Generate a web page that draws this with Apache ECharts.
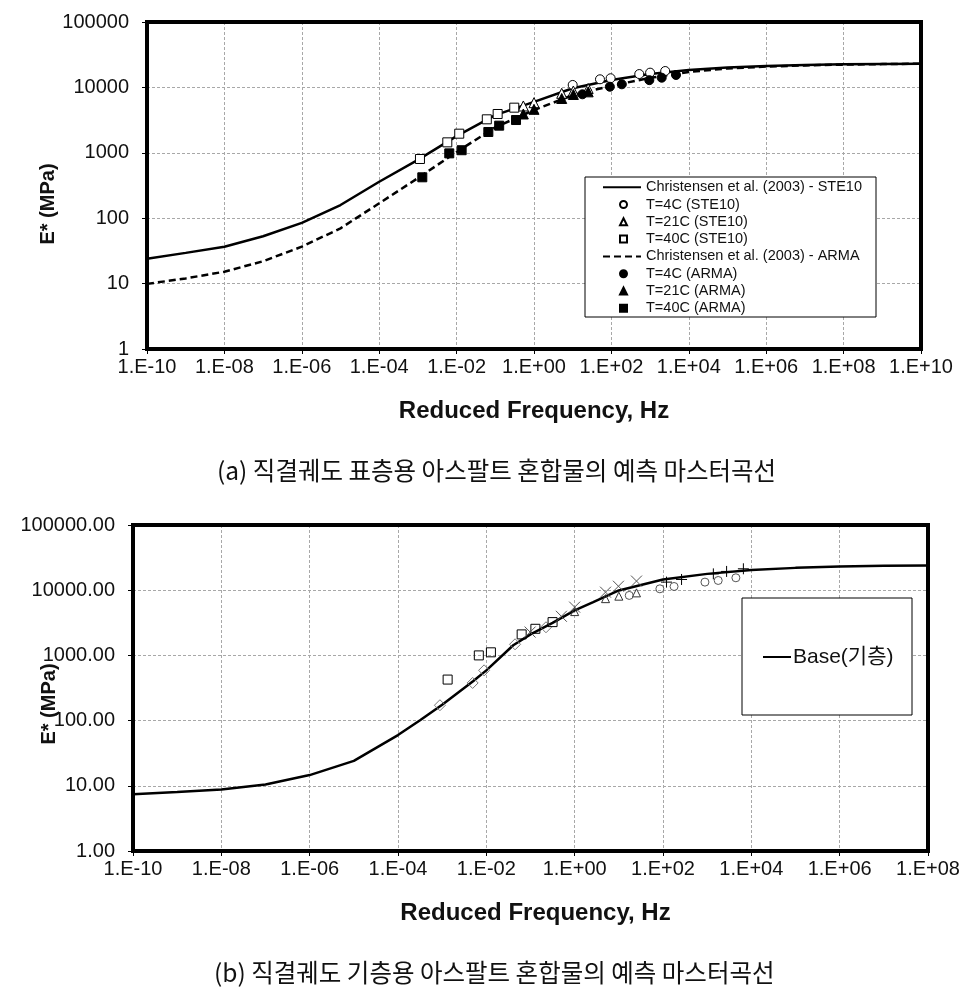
<!DOCTYPE html>
<html>
<head>
<meta charset="utf-8">
<script src="https://cdn.jsdelivr.net/npm/echarts@6/dist/echarts.min.js"></script>
<style>
html,body{margin:0;padding:0;background:#fff;}
#chart{width:972px;height:993px;}
</style>
</head>
<body>
<div id="chart"></div>
<script>
// ---------- Chart (a) data ----------
const curveFreqA = [1e-10,1e-9,1e-8,1e-7,1e-6,1e-5,1e-4,1e-3,1e-2,1e-1,1,10,100,1e3,1e4,1e5,1e6,1e7,1e8,1e9,1e10];
const ste10Curve = [24,29.5,36.7,53,85,159,361,780,1800,3760,6000,9700,13000,16000,18500,20200,21200,22000,22500,22800,23000];
const armaCurve  = [9.9,12,15.2,22,36.7,70,169,410,1030,2450,4510,7600,10600,14000,17200,19500,20800,21700,22300,22700,23000];

const ste4Freq  = [10,50.7,95.5,525,1000,2455];
const ste4E     = [10900,13300,13800,16000,16800,17800];
const ste21Freq = [0.53,1.0,5.2,10.4,25.1];
const ste21E    = [5200,5840,8120,8810,9600];
const ste40Freq = [1.13e-3,5.75e-3,1.17e-2,6.03e-2,0.115,0.309];
const ste40E    = [804,1445,1960,3250,3920,4900];

const arma4Freq  = [17.8,91.2,186,955,1995,4677];
const arma4E     = [7840,10240,11150,12900,14070,15480];
const arma21Freq = [0.53,1.0,5.2,10.4,25.1];
const arma21E    = [3920,4620,6770,7800,8550];
const arma40Freq = [1.3e-3,6.46e-3,1.35e-2,6.61e-2,0.126,0.343];
const arma40E    = [422,980,1095,2080,2600,3170];

// ---------- Chart (b) data ----------
const baseFreq = [1e-10,1e-9,1e-8,1e-7,1e-6,1e-5,1e-4,3.16e-4,1e-3,5.0e-3,1e-2,4.07e-2,0.1,0.316,1,2.63,10,100,1e3,1e4,1e5,1e6,1e7,1e8];
const baseE    = [7.4,8.0,8.8,10.5,14.6,24.1,60,101,175,401,590,1430,2100,3150,4900,6560,9900,14600,17800,20400,22000,23100,23700,24000];

const bDiaFreq = [8.9e-4,4.9e-3,8.9e-3,4.47e-2,0.224];
const bDiaE    = [172,378,590,1480,2700];
const bSqFreq  = [1.33e-3,6.76e-3,1.27e-2,6.31e-2,0.129,0.316];
const bSqE     = [426,1000,1115,2100,2560,3240];
const bXFreq   = [9.8e-2,0.5,1,5.0,9.8,25.1];
const bXE      = [2280,3980,5500,9330,11500,13800];
const bTriFreq = [1,5.0,10,25.1];
const bTriE    = [4700,7420,8100,9100];
const bCirFreq = [17.2,85,178,891,1778,4467];
const bCirE    = [8320,10500,11400,13300,14100,15500];
const bPlusFreq= [120,263,1380,2754,6607];
const bPlusE   = [13300,14600,17800,19400,21300];

const namesA = ['Christensen et al. (2003) - STE10','T=4C (STE10)','T=21C (STE10)','T=40C (STE10)',
                'Christensen et al. (2003) - ARMA','T=4C (ARMA)','T=21C (ARMA)','T=40C (ARMA)'];
const nameB = 'Base(기층)';
const captionA = '(a) 직결궤도 표층용 아스팔트 혼합물의 예측 마스터곡선';
const captionB = '(b) 직결궤도 기층용 아스팔트 혼합물의 예측 마스터곡선';
const xTitle = 'Reduced Frequency, Hz';
const yTitle = 'E* (MPa)';

function zip(a,b){return a.map((v,i)=>[v,b[i]]);}
function fmtE(v){
  const e = Math.round(Math.log10(v));
  const a = Math.abs(e);
  return '1.E' + (e<0?'-':'+') + (a<10?'0'+a:a);
}
const LAT = '"Liberation Sans", Arial, sans-serif';
const gridLine = {show:true, lineStyle:{color:'#a8a8a8', type:[3,2], width:1}};
const axLine = {show:true, lineStyle:{color:'#000', width:4}};
const axTick = {show:true, length:5, lineStyle:{color:'#000', width:1}};
const hiddenSym = {color:'rgba(0,0,0,0)', borderColor:'rgba(0,0,0,0)', borderWidth:0, opacity:0};

function xAxis(gi, max, pad){
  return {type:'log', logBase:10, gridIndex:gi, min:1e-10, max:max, interval:2,
    axisLine:axLine, axisTick:axTick, splitLine:gridLine,
    axisLabel:{formatter:fmtE, fontSize:20, color:'#111', fontFamily:LAT, margin:8},
    name:xTitle, nameLocation:'middle', nameGap:50,
    nameTextStyle:{fontSize:24, fontWeight:'bold', color:'#111', fontFamily:LAT, padding:pad}};
}
function yAxis(gi, fmt){
  return {type:'log', logBase:10, gridIndex:gi, min:1, max:100000, interval:1,
    axisLine:axLine, axisTick:axTick, splitLine:gridLine,
    axisLabel:{formatter:fmt, fontSize:20, color:'#111', fontFamily:LAT, margin:18}};
}
function scat(name, fx, fy, sym, size, fill, stroke, xi){
  return {type:'scatter', name:name, xAxisIndex:xi, yAxisIndex:xi, data:zip(fx,fy),
    symbol:sym, symbolSize:size, z:5,
    itemStyle:{color:fill, borderColor:stroke, borderWidth:1, opacity:1}};
}

// legend (a): one component per entry so line and marker icons can be sized separately
const legendRowsTop = 186.7, legendRowStep = 17.3;
const legendsA = namesA.map((n,i)=>{
  const isLine = (i===0 || i===4);
  const cy = legendRowsTop + i*legendRowStep;
  const l = {
    data:[n],
    left: isLine ? 602 : 619, top: cy-7, padding:0,
    itemWidth: isLine ? 38 : 7, itemHeight: 7,
    textStyle:{fontSize:14.5, lineHeight:14, color:'#111', fontFamily:LAT,
               padding: isLine ? [0,0,0,0] : [0,0,0,14]},
    selectedMode:false
  };
  if (isLine) l.itemStyle = hiddenSym;
  return l;
});

const chart = echarts.init(document.getElementById('chart'), null, {renderer:'canvas'});
chart.setOption({
  animation:false,
  backgroundColor:'#fff',
  grid:[
    {left:147, top:22, width:774, height:327},
    {left:133, top:525, width:795, height:326}
  ],
  xAxis:[xAxis(0,1e10,[0,0,0,0]), xAxis(1,1e8,[0,0,0,10])],
  yAxis:[yAxis(0, v=>String(Math.round(v))), yAxis(1, v=>Number(v).toFixed(2))],
  title:[
    {text:captionA, left:217, top:458, padding:0, textStyle:{fontSize:24.5, fontWeight:'normal', color:'#111', fontFamily:'"Noto Sans CJK KR", sans-serif'}},
    {text:captionB, left:214, top:960, padding:0, textStyle:{fontSize:24.5, fontWeight:'normal', color:'#111', fontFamily:'"Noto Sans CJK KR", sans-serif'}}
  ],
  graphic:[
    {type:'rect', shape:{x:147, y:22, width:774, height:327}, style:{fill:'none', stroke:'#000', lineWidth:4}, z:100},
    {type:'rect', shape:{x:133, y:525, width:795, height:326}, style:{fill:'none', stroke:'#000', lineWidth:4}, z:100},
    {type:'rect', shape:{x:585, y:177, width:291, height:140}, style:{fill:'#fff', stroke:'#000', lineWidth:1}, z:4},
    {type:'rect', shape:{x:742, y:598, width:170, height:117}, style:{fill:'#fff', stroke:'#000', lineWidth:1}, z:4},
    {type:'text', x:48, y:204, rotation:Math.PI/2, style:{text:yTitle, font:'bold 20px '+LAT, fill:'#111', textAlign:'center', textVerticalAlign:'middle'}},
    {type:'text', x:49, y:704, rotation:Math.PI/2, style:{text:yTitle, font:'bold 20px '+LAT, fill:'#111', textAlign:'center', textVerticalAlign:'middle'}}
  ],
  legend: legendsA.concat([
    {data:[nameB], left:762, top:646, padding:0,
     itemWidth:28, itemHeight:14, itemStyle:hiddenSym,
     textStyle:{fontSize:21, lineHeight:22, color:'#111', fontFamily:LAT+', "Noto Sans CJK KR"', padding:[0,0,0,-3]}, selectedMode:false}
  ]),
  series:[
    {type:'line', name:namesA[0], xAxisIndex:0, yAxisIndex:0, data:zip(curveFreqA, ste10Curve), symbol:'none',
     lineStyle:{color:'#000', width:2.5}, itemStyle:{color:'#000'}, z:3},
    scat(namesA[1], ste4Freq, ste4E, 'circle', 9, '#fff', '#000', 0),
    scat(namesA[2], ste21Freq, ste21E, 'triangle', 10, '#fff', '#000', 0),
    scat(namesA[3], ste40Freq, ste40E, 'rect', 9, '#fff', '#000', 0),
    {type:'line', name:namesA[4], xAxisIndex:0, yAxisIndex:0, data:zip(curveFreqA, armaCurve), symbol:'none',
     lineStyle:{color:'#000', width:2.5, type:[7,4]}, itemStyle:{color:'#000'}, z:3},
    scat(namesA[5], arma4Freq, arma4E, 'circle', 9, '#000', '#000', 0),
    scat(namesA[6], arma21Freq, arma21E, 'triangle', 10, '#000', '#000', 0),
    scat(namesA[7], arma40Freq, arma40E, 'rect', 9, '#000', '#000', 0),

    {type:'line', name:nameB, xAxisIndex:1, yAxisIndex:1, data:zip(baseFreq, baseE), symbol:'none',
     lineStyle:{color:'#000', width:2.5}, itemStyle:{color:'#000'}, z:3},
    scat('b-dia', bDiaFreq, bDiaE, 'diamond', 11, 'rgba(255,255,255,0)', '#777', 1),
    scat('b-sq', bSqFreq, bSqE, 'rect', 9, 'rgba(255,255,255,0)', '#000', 1),
    scat('b-x', bXFreq, bXE, 'path://M0,0L10,10M10,0L0,10', 11, 'rgba(255,255,255,0)', '#555', 1),
    scat('b-tri', bTriFreq, bTriE, 'triangle', 8, 'rgba(255,255,255,0)', '#333', 1),
    scat('b-cir', bCirFreq, bCirE, 'circle', 8, 'rgba(255,255,255,0)', '#555', 1),
    scat('b-plus', bPlusFreq, bPlusE, 'path://M5,0L5,10M0,5L10,5', 11, 'rgba(255,255,255,0)', '#000', 1)
  ]
});
</script>
</body>
</html>
